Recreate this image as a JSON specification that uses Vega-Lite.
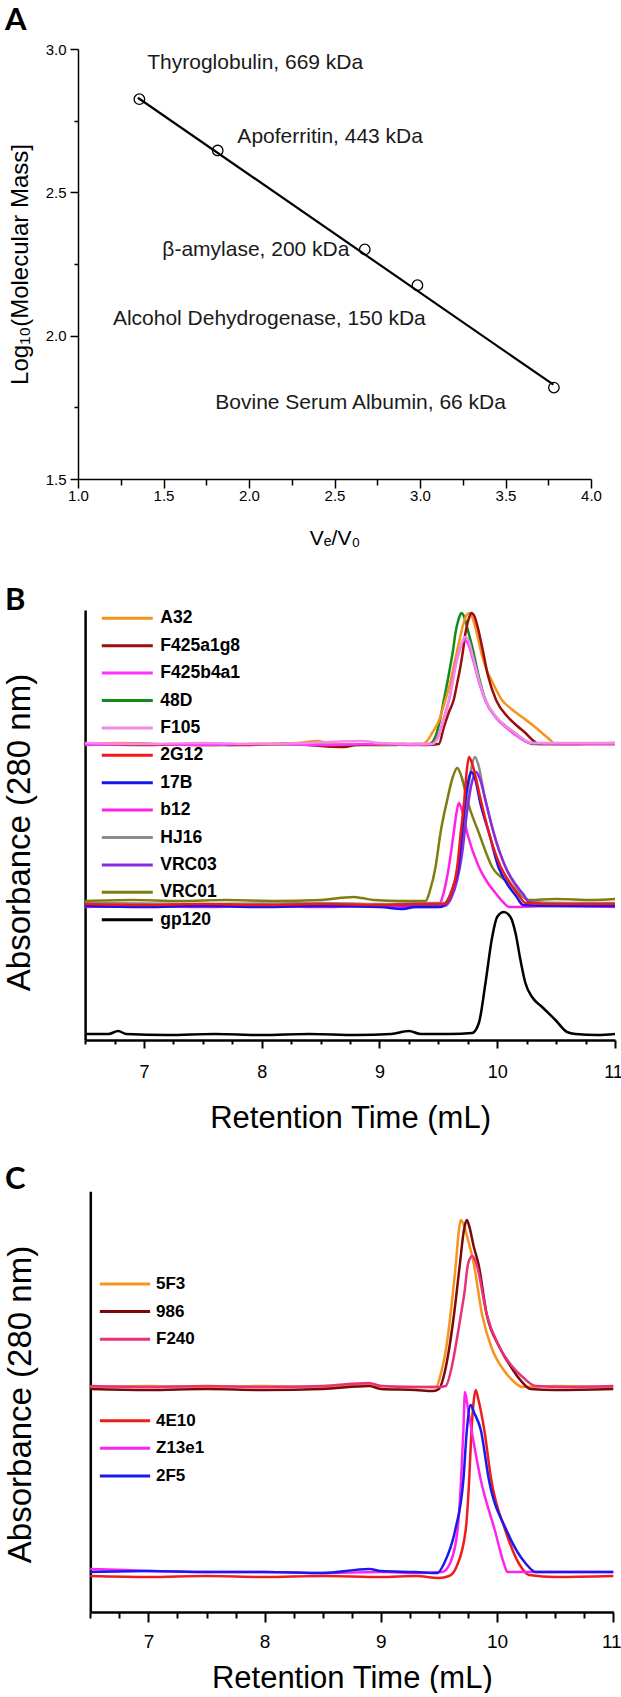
{
"$schema": "https://vega.github.io/schema/vega-lite/v6.json",
"autosize": {"type": "pad"},
"padding": {"left": 3, "top": 5, "right": 0, "bottom": 0},
"bounds": "flush",
"spacing": 131,
"resolve": {"scale": {"color": "independent"}, "legend": {"color": "independent"}},
"config": {
  "view": {"stroke": null},
  "font": "Liberation Sans",
  "axis": {"domainColor": "black", "tickColor": "black", "labelColor": "black", "titleColor": "black", "titleFontWeight": "normal", "grid": false, "labelFont": "Liberation Sans", "titleFont": "Liberation Sans", "labelFlush": false, "labelOverlap": false},
  "title": {"anchor": "start", "frame": "group", "fontSize": 31, "font": "Lato", "fontWeight": "bold", "color": "black", "offset": 0},
  "legend": {"padding": 0, "title": null}
},
"vconcat": [
{
  "width": 513, "height": 430,
  "title": {"text": "A", "dx": -73, "dy": -1},
  "data": {"values": [
    {"protein": "Thyroglobulin", "label": "Thyroglobulin, 669 kDa", "v": 1.359, "m": 2.825, "lx": 1.405, "ly": 2.951},
    {"protein": "Apoferritin", "label": "Apoferritin, 443 kDa", "v": 1.817, "m": 2.646, "lx": 1.932, "ly": 2.692},
    {"protein": "beta-amylase", "label": "β-amylase, 200 kDa", "v": 2.677, "m": 2.301, "lx": 1.493, "ly": 2.299},
    {"protein": "Alcohol Dehydrogenase", "label": "Alcohol Dehydrogenase, 150 kDa", "v": 2.985, "m": 2.176, "lx": 1.204, "ly": 2.059},
    {"protein": "Bovine Serum Albumin", "label": "Bovine Serum Albumin, 66 kDa", "v": 3.783, "m": 1.819, "lx": 1.803, "ly": 1.764}
  ]},
  "layer": [
    {
      "data": {"values": [{"v": 1.35, "m": 2.83}, {"v": 3.78, "m": 1.829}]},
      "mark": {"type": "line", "color": "black", "strokeWidth": 2.2},
      "encoding": {
        "x": {"field": "v", "type": "quantitative",
          "scale": {"domain": [1, 4], "nice": false, "zero": false},
          "axis": {"values": [1,1.25,1.5,1.75,2,2.25,2.5,2.75,3,3.25,3.5,3.75,4],
            "labelExpr": "datum.value % 0.5 === 0 ? format(datum.value, '.1f') : ''",
            "tickSize": {"condition": {"test": "datum.value % 0.5 === 0", "value": 9}, "value": 6},
            "tickWidth": 1.5, "domainWidth": 1.5, "labelFontSize": 15, "labelPadding": 0,
            "title": "Vₑ/V₀", "titleFontSize": 21, "titlePadding": 24}},
        "y": {"field": "m", "type": "quantitative",
          "scale": {"domain": [1.5, 3], "nice": false, "zero": false},
          "axis": {"values": [1.5,1.75,2,2.25,2.5,2.75,3],
            "labelExpr": "datum.value % 0.5 === 0 ? format(datum.value, '.1f') : ''",
            "tickSize": {"condition": {"test": "datum.value % 0.5 === 0", "value": 8}, "value": 4},
            "tickWidth": 1.5, "domainWidth": 1.5, "labelFontSize": 15, "labelPadding": 4,
            "title": "Log₁₀(Molecular Mass]", "titleFontSize": 24, "titlePadding": 13}}
      }
    },
    {
      "mark": {"type": "point", "shape": "circle", "filled": false, "color": "black", "size": 110, "strokeWidth": 1.3, "opacity": 1},
      "encoding": {"x": {"field": "v", "type": "quantitative"}, "y": {"field": "m", "type": "quantitative"}}
    },
    {
      "mark": {"type": "text", "align": "left", "baseline": "middle", "fontSize": 21, "font": "Liberation Sans", "color": "#1a1a1a"},
      "encoding": {"x": {"field": "lx", "type": "quantitative"}, "y": {"field": "ly", "type": "quantitative"}, "text": {"field": "label"}}
    }
  ]
},
{
  "width": 537, "height": 430,
  "title": {"text": "B", "dx": -73, "dy": 15},
  "data": {"values": [
{"s":"gp120","t":6.5,"a":6},{"s":"gp120","t":6.7,"a":6},{"s":"gp120","t":6.78,"a":9},{"s":"gp120","t":6.85,"a":6},{"s":"gp120","t":7.2,"a":5},{"s":"gp120","t":7.6,"a":6},{"s":"gp120","t":8.0,"a":5},{"s":"gp120","t":8.4,"a":6},{"s":"gp120","t":8.8,"a":5},{"s":"gp120","t":9.1,"a":6},{"s":"gp120","t":9.25,"a":9},{"s":"gp120","t":9.35,"a":6},{"s":"gp120","t":9.6,"a":6},{"s":"gp120","t":9.787,"a":7},{"s":"gp120","t":9.844,"a":17},{"s":"gp120","t":9.9,"a":57},{"s":"gp120","t":9.957,"a":103},{"s":"gp120","t":9.999,"a":123},{"s":"gp120","t":10.056,"a":128},{"s":"gp120","t":10.112,"a":123},{"s":"gp120","t":10.155,"a":107},{"s":"gp120","t":10.197,"a":80},{"s":"gp120","t":10.239,"a":57},{"s":"gp120","t":10.296,"a":43},{"s":"gp120","t":10.381,"a":33},{"s":"gp120","t":10.494,"a":20},{"s":"gp120","t":10.593,"a":8},{"s":"gp120","t":10.664,"a":6},{"s":"gp120","t":10.85,"a":5},{"s":"gp120","t":11.0,"a":6},

{"s":"VRC01","t":6.5,"a":139},{"s":"VRC01","t":6.9,"a":140},{"s":"VRC01","t":7.3,"a":139},{"s":"VRC01","t":7.7,"a":140},{"s":"VRC01","t":8.1,"a":139},{"s":"VRC01","t":8.5,"a":140},{"s":"VRC01","t":8.78,"a":143},{"s":"VRC01","t":8.85,"a":142},{"s":"VRC01","t":8.95,"a":140},{"s":"VRC01","t":9.2,"a":139},{"s":"VRC01","t":9.391,"a":139},{"s":"VRC01","t":9.43,"a":150},{"s":"VRC01","t":9.476,"a":173},{"s":"VRC01","t":9.518,"a":207},{"s":"VRC01","t":9.575,"a":240},{"s":"VRC01","t":9.62,"a":262},{"s":"VRC01","t":9.66,"a":272},{"s":"VRC01","t":9.7,"a":262},{"s":"VRC01","t":9.745,"a":240},{"s":"VRC01","t":9.844,"a":207},{"s":"VRC01","t":9.957,"a":173},{"s":"VRC01","t":10.1,"a":157},{"s":"VRC01","t":10.18,"a":147},{"s":"VRC01","t":10.27,"a":140},{"s":"VRC01","t":10.5,"a":141},{"s":"VRC01","t":10.8,"a":140},{"s":"VRC01","t":11.0,"a":141},

{"s":"b12","t":6.5,"a":133},{"s":"b12","t":7.0,"a":134},{"s":"b12","t":7.5,"a":133},{"s":"b12","t":8.0,"a":134},{"s":"b12","t":8.5,"a":133},{"s":"b12","t":9.0,"a":134},{"s":"b12","t":9.3,"a":133},{"s":"b12","t":9.49,"a":133},{"s":"b12","t":9.54,"a":145},{"s":"b12","t":9.589,"a":173},{"s":"b12","t":9.63,"a":207},{"s":"b12","t":9.655,"a":228},{"s":"b12","t":9.674,"a":237},{"s":"b12","t":9.7,"a":230},{"s":"b12","t":9.745,"a":207},{"s":"b12","t":9.844,"a":173},{"s":"b12","t":9.92,"a":157},{"s":"b12","t":9.985,"a":147},{"s":"b12","t":10.05,"a":138},{"s":"b12","t":10.1,"a":133},{"s":"b12","t":10.5,"a":134},{"s":"b12","t":11.0,"a":133},

{"s":"HJ16","t":6.5,"a":137},{"s":"HJ16","t":7.5,"a":136},{"s":"HJ16","t":8.5,"a":137},{"s":"HJ16","t":9.0,"a":136},{"s":"HJ16","t":9.4,"a":137},{"s":"HJ16","t":9.57,"a":137},{"s":"HJ16","t":9.63,"a":150},{"s":"HJ16","t":9.68,"a":175},{"s":"HJ16","t":9.71,"a":207},{"s":"HJ16","t":9.74,"a":240},{"s":"HJ16","t":9.78,"a":272},{"s":"HJ16","t":9.81,"a":283},{"s":"HJ16","t":9.84,"a":275},{"s":"HJ16","t":9.89,"a":245},{"s":"HJ16","t":9.97,"a":207},{"s":"HJ16","t":10.07,"a":173},{"s":"HJ16","t":10.15,"a":155},{"s":"HJ16","t":10.22,"a":144},{"s":"HJ16","t":10.28,"a":138},{"s":"HJ16","t":10.6,"a":137},{"s":"HJ16","t":11.0,"a":137},

{"s":"VRC03","t":6.5,"a":134},{"s":"VRC03","t":7.0,"a":135},{"s":"VRC03","t":7.5,"a":134},{"s":"VRC03","t":8.0,"a":135},{"s":"VRC03","t":8.5,"a":134},{"s":"VRC03","t":9.0,"a":135},{"s":"VRC03","t":9.3,"a":134},{"s":"VRC03","t":9.55,"a":134},{"s":"VRC03","t":9.61,"a":142},{"s":"VRC03","t":9.66,"a":160},{"s":"VRC03","t":9.7,"a":185},{"s":"VRC03","t":9.74,"a":225},{"s":"VRC03","t":9.78,"a":255},{"s":"VRC03","t":9.82,"a":268},{"s":"VRC03","t":9.85,"a":262},{"s":"VRC03","t":9.91,"a":235},{"s":"VRC03","t":9.97,"a":207},{"s":"VRC03","t":10.07,"a":173},{"s":"VRC03","t":10.16,"a":155},{"s":"VRC03","t":10.22,"a":146},{"s":"VRC03","t":10.27,"a":138},{"s":"VRC03","t":10.5,"a":135},{"s":"VRC03","t":11.0,"a":135},

{"s":"17B","t":6.5,"a":134},{"s":"17B","t":7.0,"a":133},{"s":"17B","t":7.5,"a":134},{"s":"17B","t":8.0,"a":133},{"s":"17B","t":8.5,"a":134},{"s":"17B","t":9.0,"a":133},{"s":"17B","t":9.2,"a":131},{"s":"17B","t":9.3,"a":133},{"s":"17B","t":9.52,"a":133},{"s":"17B","t":9.58,"a":140},{"s":"17B","t":9.63,"a":155},{"s":"17B","t":9.67,"a":173},{"s":"17B","t":9.7,"a":207},{"s":"17B","t":9.73,"a":240},{"s":"17B","t":9.76,"a":262},{"s":"17B","t":9.78,"a":268},{"s":"17B","t":9.81,"a":262},{"s":"17B","t":9.86,"a":235},{"s":"17B","t":9.93,"a":207},{"s":"17B","t":10.01,"a":173},{"s":"17B","t":10.09,"a":155},{"s":"17B","t":10.16,"a":144},{"s":"17B","t":10.22,"a":135},{"s":"17B","t":10.5,"a":134},{"s":"17B","t":11.0,"a":134},

{"s":"2G12","t":6.5,"a":136},{"s":"2G12","t":7.0,"a":135},{"s":"2G12","t":7.5,"a":136},{"s":"2G12","t":8.0,"a":135},{"s":"2G12","t":8.5,"a":136},{"s":"2G12","t":9.0,"a":135},{"s":"2G12","t":9.3,"a":136},{"s":"2G12","t":9.547,"a":136},{"s":"2G12","t":9.6,"a":145},{"s":"2G12","t":9.66,"a":173},{"s":"2G12","t":9.69,"a":207},{"s":"2G12","t":9.72,"a":240},{"s":"2G12","t":9.74,"a":268},{"s":"2G12","t":9.76,"a":283},{"s":"2G12","t":9.79,"a":275},{"s":"2G12","t":9.86,"a":240},{"s":"2G12","t":9.93,"a":207},{"s":"2G12","t":10.03,"a":173},{"s":"2G12","t":10.12,"a":155},{"s":"2G12","t":10.18,"a":145},{"s":"2G12","t":10.24,"a":137},{"s":"2G12","t":10.5,"a":136},{"s":"2G12","t":11.0,"a":136},

{"s":"48D","t":6.5,"a":296},{"s":"48D","t":7.0,"a":296},{"s":"48D","t":7.6,"a":295},{"s":"48D","t":8.2,"a":296},{"s":"48D","t":8.8,"a":295},{"s":"48D","t":9.1,"a":295},{"s":"48D","t":9.3,"a":296},{"s":"48D","t":9.42,"a":296},{"s":"48D","t":9.47,"a":302},{"s":"48D","t":9.51,"a":318},{"s":"48D","t":9.547,"a":340},{"s":"48D","t":9.58,"a":360},{"s":"48D","t":9.6,"a":373},{"s":"48D","t":9.625,"a":390},{"s":"48D","t":9.645,"a":407},{"s":"48D","t":9.67,"a":420},{"s":"48D","t":9.695,"a":427},{"s":"48D","t":9.72,"a":423},{"s":"48D","t":9.75,"a":410},{"s":"48D","t":9.79,"a":392},{"s":"48D","t":9.84,"a":365},{"s":"48D","t":9.9,"a":340},{"s":"48D","t":9.99,"a":323},{"s":"48D","t":10.07,"a":314},{"s":"48D","t":10.15,"a":307},{"s":"48D","t":10.23,"a":300},{"s":"48D","t":10.3,"a":296},{"s":"48D","t":10.6,"a":296},{"s":"48D","t":11.0,"a":296},

{"s":"A32","t":6.5,"a":296},{"s":"A32","t":6.8,"a":297},{"s":"A32","t":7.1,"a":296},{"s":"A32","t":7.5,"a":295},{"s":"A32","t":7.9,"a":296},{"s":"A32","t":8.3,"a":297},{"s":"A32","t":8.48,"a":299},{"s":"A32","t":8.6,"a":296},{"s":"A32","t":9.0,"a":295},{"s":"A32","t":9.2,"a":296},{"s":"A32","t":9.36,"a":296},{"s":"A32","t":9.41,"a":300},{"s":"A32","t":9.447,"a":307},{"s":"A32","t":9.5,"a":318},{"s":"A32","t":9.56,"a":340},{"s":"A32","t":9.6,"a":357},{"s":"A32","t":9.63,"a":373},{"s":"A32","t":9.67,"a":395},{"s":"A32","t":9.71,"a":415},{"s":"A32","t":9.74,"a":425},{"s":"A32","t":9.764,"a":427},{"s":"A32","t":9.79,"a":422},{"s":"A32","t":9.83,"a":405},{"s":"A32","t":9.87,"a":385},{"s":"A32","t":9.9,"a":373},{"s":"A32","t":9.95,"a":360},{"s":"A32","t":10.04,"a":340},{"s":"A32","t":10.12,"a":331},{"s":"A32","t":10.21,"a":323},{"s":"A32","t":10.3,"a":315},{"s":"A32","t":10.38,"a":307},{"s":"A32","t":10.45,"a":300},{"s":"A32","t":10.49,"a":296},{"s":"A32","t":10.7,"a":296},{"s":"A32","t":11.0,"a":296},

{"s":"F425a1g8","t":6.5,"a":296},{"s":"F425a1g8","t":7.0,"a":295},{"s":"F425a1g8","t":7.4,"a":296},{"s":"F425a1g8","t":7.8,"a":295},{"s":"F425a1g8","t":8.2,"a":296},{"s":"F425a1g8","t":8.7,"a":293},{"s":"F425a1g8","t":8.8,"a":295},{"s":"F425a1g8","t":9.2,"a":296},{"s":"F425a1g8","t":9.4,"a":295},{"s":"F425a1g8","t":9.504,"a":296},{"s":"F425a1g8","t":9.547,"a":313},{"s":"F425a1g8","t":9.59,"a":328},{"s":"F425a1g8","t":9.63,"a":340},{"s":"F425a1g8","t":9.66,"a":357},{"s":"F425a1g8","t":9.687,"a":373},{"s":"F425a1g8","t":9.71,"a":390},{"s":"F425a1g8","t":9.73,"a":407},{"s":"F425a1g8","t":9.755,"a":420},{"s":"F425a1g8","t":9.78,"a":427},{"s":"F425a1g8","t":9.805,"a":424},{"s":"F425a1g8","t":9.84,"a":410},{"s":"F425a1g8","t":9.88,"a":388},{"s":"F425a1g8","t":9.92,"a":365},{"s":"F425a1g8","t":9.99,"a":340},{"s":"F425a1g8","t":10.09,"a":323},{"s":"F425a1g8","t":10.17,"a":314},{"s":"F425a1g8","t":10.24,"a":307},{"s":"F425a1g8","t":10.3,"a":300},{"s":"F425a1g8","t":10.35,"a":296},{"s":"F425a1g8","t":10.6,"a":296},{"s":"F425a1g8","t":11.0,"a":297},

{"s":"F425b4a1","t":6.5,"a":295},{"s":"F425b4a1","t":7.0,"a":296},{"s":"F425b4a1","t":7.5,"a":295},{"s":"F425b4a1","t":8.0,"a":296},{"s":"F425b4a1","t":8.5,"a":295},{"s":"F425b4a1","t":9.0,"a":296},{"s":"F425b4a1","t":9.3,"a":295},{"s":"F425b4a1","t":9.44,"a":296},{"s":"F425b4a1","t":9.5,"a":304},{"s":"F425b4a1","t":9.55,"a":323},{"s":"F425b4a1","t":9.6,"a":345},{"s":"F425b4a1","t":9.64,"a":372},{"s":"F425b4a1","t":9.68,"a":390},{"s":"F425b4a1","t":9.72,"a":400},{"s":"F425b4a1","t":9.75,"a":397},{"s":"F425b4a1","t":9.79,"a":382},{"s":"F425b4a1","t":9.84,"a":360},{"s":"F425b4a1","t":9.9,"a":339},{"s":"F425b4a1","t":9.99,"a":322},{"s":"F425b4a1","t":10.08,"a":312},{"s":"F425b4a1","t":10.18,"a":303},{"s":"F425b4a1","t":10.28,"a":297},{"s":"F425b4a1","t":10.6,"a":296},{"s":"F425b4a1","t":11.0,"a":296},

{"s":"F105","t":6.5,"a":297},{"s":"F105","t":7.0,"a":296},{"s":"F105","t":7.5,"a":297},{"s":"F105","t":8.0,"a":296},{"s":"F105","t":8.4,"a":297},{"s":"F105","t":8.85,"a":299},{"s":"F105","t":9.0,"a":297},{"s":"F105","t":9.3,"a":296},{"s":"F105","t":9.447,"a":296},{"s":"F105","t":9.5,"a":303},{"s":"F105","t":9.55,"a":322},{"s":"F105","t":9.59,"a":340},{"s":"F105","t":9.62,"a":357},{"s":"F105","t":9.645,"a":373},{"s":"F105","t":9.68,"a":390},{"s":"F105","t":9.73,"a":403},{"s":"F105","t":9.76,"a":398},{"s":"F105","t":9.79,"a":385},{"s":"F105","t":9.84,"a":362},{"s":"F105","t":9.9,"a":340},{"s":"F105","t":9.99,"a":323},{"s":"F105","t":10.07,"a":314},{"s":"F105","t":10.15,"a":307},{"s":"F105","t":10.23,"a":300},{"s":"F105","t":10.3,"a":297},{"s":"F105","t":10.6,"a":297},{"s":"F105","t":11.0,"a":297}
  ]},
  "mark": {"type": "line", "strokeWidth": 2.5, "interpolate": "monotone"},
  "encoding": {
    "x": {"field": "t", "type": "quantitative",
      "scale": {"domain": [6.5, 11], "range": [7.1, 537], "nice": false, "zero": false},
      "axis": {"values": [6.5,6.75,7,7.25,7.5,7.75,8,8.25,8.5,8.75,9,9.25,9.5,9.75,10,10.25,10.5,10.75,11],
        "labelExpr": "datum.value % 1 === 0 ? format(datum.value, 'd') : ''",
        "labelOffset": {"condition": {"test": "datum.value === 11", "value": -2}, "value": 0},
        "tickSize": {"condition": {"test": "datum.value % 1 === 0", "value": 8}, "value": 4},
        "tickWidth": 2, "domainWidth": 2.5, "labelFontSize": 18, "labelPadding": 15,
        "title": "Retention Time (mL)", "titleFontSize": 31, "titlePadding": 22.5}},
    "y": {"field": "a", "type": "quantitative",
      "scale": {"domain": [0, 430], "nice": false, "zero": false},
      "axis": {"labels": false, "ticks": false, "offset": -7.1, "domainWidth": 2.5,
        "title": "Absorbance (280 nm)", "titleFontSize": 33, "titlePadding": 49, "titleY": 222}},
    "color": {"field": "s", "type": "nominal",
      "scale": {"domain": ["A32","F425a1g8","F425b4a1","48D","F105","2G12","17B","b12","HJ16","VRC03","VRC01","gp120"],
        "range": ["#F7941D","#9B0E0E","#FF33FF","#118C1A","#F08CE6","#F01818","#1515F0","#FF22E8","#8C8C8C","#8A2BE2","#7E7E10","#000000"]},
      "legend": {"orient": "none", "legendX": 22.3, "legendY": -4.2, "symbolType": "stroke", "symbolSize": 2601, "symbolStrokeWidth": 3, "clipHeight": 25, "rowPadding": 2.4, "labelOffset": 6, "labelFont": "Liberation Sans", "labelFontWeight": "bold", "labelFontSize": 17.5, "labelColor": "black"}}
  }
},
{
  "width": 536, "height": 441,
  "title": {"text": "C", "dx": -73, "dy": 29},
  "data": {"values": [
{"g":"top","s":"5F3","t":6.5,"a":225},{"g":"top","s":"5F3","t":7.0,"a":226},{"g":"top","s":"5F3","t":7.5,"a":225},{"g":"top","s":"5F3","t":8.0,"a":226},{"g":"top","s":"5F3","t":8.5,"a":225},{"g":"top","s":"5F3","t":8.9,"a":228},{"g":"top","s":"5F3","t":9.0,"a":226},{"g":"top","s":"5F3","t":9.3,"a":225},{"g":"top","s":"5F3","t":9.472,"a":225},{"g":"top","s":"5F3","t":9.52,"a":240},{"g":"top","s":"5F3","t":9.57,"a":270},{"g":"top","s":"5F3","t":9.6,"a":298},{"g":"top","s":"5F3","t":9.645,"a":348},{"g":"top","s":"5F3","t":9.67,"a":380},{"g":"top","s":"5F3","t":9.687,"a":392},{"g":"top","s":"5F3","t":9.71,"a":388},{"g":"top","s":"5F3","t":9.75,"a":372},{"g":"top","s":"5F3","t":9.8,"a":348},{"g":"top","s":"5F3","t":9.87,"a":298},{"g":"top","s":"5F3","t":9.95,"a":265},{"g":"top","s":"5F3","t":10.05,"a":243},{"g":"top","s":"5F3","t":10.13,"a":232},{"g":"top","s":"5F3","t":10.218,"a":225},{"g":"top","s":"5F3","t":10.5,"a":226},{"g":"top","s":"5F3","t":11.0,"a":225},

{"g":"top","s":"986","t":6.5,"a":223},{"g":"top","s":"986","t":7.0,"a":222},{"g":"top","s":"986","t":7.5,"a":223},{"g":"top","s":"986","t":8.0,"a":222},{"g":"top","s":"986","t":8.5,"a":223},{"g":"top","s":"986","t":8.9,"a":226},{"g":"top","s":"986","t":9.0,"a":223},{"g":"top","s":"986","t":9.3,"a":222},{"g":"top","s":"986","t":9.45,"a":221},{"g":"top","s":"986","t":9.5,"a":223},{"g":"top","s":"986","t":9.55,"a":240},{"g":"top","s":"986","t":9.59,"a":265},{"g":"top","s":"986","t":9.63,"a":298},{"g":"top","s":"986","t":9.68,"a":348},{"g":"top","s":"986","t":9.715,"a":382},{"g":"top","s":"986","t":9.739,"a":392},{"g":"top","s":"986","t":9.76,"a":386},{"g":"top","s":"986","t":9.8,"a":365},{"g":"top","s":"986","t":9.84,"a":348},{"g":"top","s":"986","t":9.91,"a":298},{"g":"top","s":"986","t":10.02,"a":265},{"g":"top","s":"986","t":10.12,"a":245},{"g":"top","s":"986","t":10.2,"a":232},{"g":"top","s":"986","t":10.289,"a":223},{"g":"top","s":"986","t":10.5,"a":222},{"g":"top","s":"986","t":11.0,"a":223},

{"g":"top","s":"F240","t":6.5,"a":226},{"g":"top","s":"F240","t":7.0,"a":225},{"g":"top","s":"F240","t":7.5,"a":226},{"g":"top","s":"F240","t":8.0,"a":225},{"g":"top","s":"F240","t":8.5,"a":226},{"g":"top","s":"F240","t":8.9,"a":229},{"g":"top","s":"F240","t":9.0,"a":226},{"g":"top","s":"F240","t":9.3,"a":225},{"g":"top","s":"F240","t":9.5,"a":225},{"g":"top","s":"F240","t":9.558,"a":226},{"g":"top","s":"F240","t":9.61,"a":245},{"g":"top","s":"F240","t":9.65,"a":270},{"g":"top","s":"F240","t":9.69,"a":298},{"g":"top","s":"F240","t":9.72,"a":320},{"g":"top","s":"F240","t":9.75,"a":348},{"g":"top","s":"F240","t":9.787,"a":356},{"g":"top","s":"F240","t":9.81,"a":352},{"g":"top","s":"F240","t":9.83,"a":345},{"g":"top","s":"F240","t":9.91,"a":298},{"g":"top","s":"F240","t":10.02,"a":265},{"g":"top","s":"F240","t":10.12,"a":247},{"g":"top","s":"F240","t":10.22,"a":235},{"g":"top","s":"F240","t":10.332,"a":226},{"g":"top","s":"F240","t":10.6,"a":225},{"g":"top","s":"F240","t":11.0,"a":226},

{"g":"bot","s":"4E10","t":6.5,"a":36},{"g":"bot","s":"4E10","t":7.0,"a":35},{"g":"bot","s":"4E10","t":7.5,"a":36},{"g":"bot","s":"4E10","t":8.0,"a":35},{"g":"bot","s":"4E10","t":8.5,"a":36},{"g":"bot","s":"4E10","t":9.0,"a":35},{"g":"bot","s":"4E10","t":9.3,"a":36},{"g":"bot","s":"4E10","t":9.5,"a":34},{"g":"bot","s":"4E10","t":9.587,"a":36},{"g":"bot","s":"4E10","t":9.65,"a":45},{"g":"bot","s":"4E10","t":9.73,"a":82},{"g":"bot","s":"4E10","t":9.76,"a":132},{"g":"bot","s":"4E10","t":9.78,"a":182},{"g":"bot","s":"4E10","t":9.8,"a":212},{"g":"bot","s":"4E10","t":9.816,"a":222},{"g":"bot","s":"4E10","t":9.84,"a":212},{"g":"bot","s":"4E10","t":9.89,"a":182},{"g":"bot","s":"4E10","t":9.95,"a":132},{"g":"bot","s":"4E10","t":10.07,"a":82},{"g":"bot","s":"4E10","t":10.19,"a":48},{"g":"bot","s":"4E10","t":10.275,"a":37},{"g":"bot","s":"4E10","t":10.5,"a":35},{"g":"bot","s":"4E10","t":11.0,"a":36},

{"g":"bot","s":"Z13e1","t":6.5,"a":43},{"g":"bot","s":"Z13e1","t":6.8,"a":42},{"g":"bot","s":"Z13e1","t":7.0,"a":41},{"g":"bot","s":"Z13e1","t":7.5,"a":40},{"g":"bot","s":"Z13e1","t":8.0,"a":40},{"g":"bot","s":"Z13e1","t":8.5,"a":39},{"g":"bot","s":"Z13e1","t":9.0,"a":40},{"g":"bot","s":"Z13e1","t":9.3,"a":39},{"g":"bot","s":"Z13e1","t":9.529,"a":40},{"g":"bot","s":"Z13e1","t":9.6,"a":50},{"g":"bot","s":"Z13e1","t":9.66,"a":82},{"g":"bot","s":"Z13e1","t":9.69,"a":132},{"g":"bot","s":"Z13e1","t":9.71,"a":182},{"g":"bot","s":"Z13e1","t":9.724,"a":220},{"g":"bot","s":"Z13e1","t":9.74,"a":210},{"g":"bot","s":"Z13e1","t":9.78,"a":182},{"g":"bot","s":"Z13e1","t":9.86,"a":132},{"g":"bot","s":"Z13e1","t":9.98,"a":82},{"g":"bot","s":"Z13e1","t":10.06,"a":48},{"g":"bot","s":"Z13e1","t":10.089,"a":40},{"g":"bot","s":"Z13e1","t":10.5,"a":40},{"g":"bot","s":"Z13e1","t":11.0,"a":40},

{"g":"bot","s":"2F5","t":6.5,"a":40},{"g":"bot","s":"2F5","t":7.0,"a":41},{"g":"bot","s":"2F5","t":7.5,"a":40},{"g":"bot","s":"2F5","t":8.0,"a":40},{"g":"bot","s":"2F5","t":8.5,"a":39},{"g":"bot","s":"2F5","t":8.9,"a":43},{"g":"bot","s":"2F5","t":9.0,"a":41},{"g":"bot","s":"2F5","t":9.3,"a":40},{"g":"bot","s":"2F5","t":9.486,"a":39},{"g":"bot","s":"2F5","t":9.55,"a":50},{"g":"bot","s":"2F5","t":9.64,"a":82},{"g":"bot","s":"2F5","t":9.71,"a":132},{"g":"bot","s":"2F5","t":9.74,"a":182},{"g":"bot","s":"2F5","t":9.773,"a":207},{"g":"bot","s":"2F5","t":9.8,"a":200},{"g":"bot","s":"2F5","t":9.86,"a":182},{"g":"bot","s":"2F5","t":9.93,"a":132},{"g":"bot","s":"2F5","t":10.08,"a":82},{"g":"bot","s":"2F5","t":10.25,"a":48},{"g":"bot","s":"2F5","t":10.332,"a":40},{"g":"bot","s":"2F5","t":10.6,"a":40},{"g":"bot","s":"2F5","t":11.0,"a":40}
  ]},
  "encoding": {
    "x": {"field": "t", "type": "quantitative",
      "scale": {"domain": [6.5, 11], "range": [12.3, 535.3], "nice": false, "zero": false},
      "axis": {"values": [6.5,6.75,7,7.25,7.5,7.75,8,8.25,8.5,8.75,9,9.25,9.5,9.75,10,10.25,10.5,10.75,11],
        "labelExpr": "datum.value % 1 === 0 ? format(datum.value, 'd') : ''",
        "labelOffset": {"condition": {"test": "datum.value === 11", "value": -2}, "value": 0},
        "tickSize": {"condition": {"test": "datum.value % 1 === 0", "value": 10}, "value": 6},
        "tickWidth": 2, "domainWidth": 2.5, "labelFontSize": 19, "labelPadding": 10,
        "title": "Retention Time (mL)", "titleFontSize": 31, "titlePadding": 12}},
    "y": {"field": "a", "type": "quantitative",
      "scale": {"domain": [0, 420.7], "range": [441, 20.3], "nice": false, "zero": false},
      "axis": {"labels": false, "ticks": false, "offset": -12.3, "domainWidth": 2.5,
        "title": "Absorbance (280 nm)", "titleFontSize": 33, "titlePadding": 53, "titleY": 233}}
  },
  "layer": [
    {
      "transform": [{"filter": "datum.g === 'bot'"}],
      "mark": {"type": "line", "strokeWidth": 2.5, "interpolate": "monotone"},
      "encoding": {
        "color": {"field": "s", "type": "nominal",
          "scale": {"domain": ["4E10","Z13e1","2F5"], "range": ["#EE1C1C","#FF22F0","#1A1AEE"]},
          "legend": {"orient": "none", "legendX": 20, "legendY": 237.2, "symbolType": "stroke", "symbolSize": 2530, "symbolStrokeWidth": 3, "clipHeight": 25, "rowPadding": 2.6, "labelOffset": 4, "labelFont": "Liberation Sans", "labelFontWeight": "bold", "labelFontSize": 17, "labelColor": "black"}}
      }
    },
    {
      "transform": [{"filter": "datum.g === 'top'"}],
      "mark": {"type": "line", "strokeWidth": 2.5, "interpolate": "monotone"},
      "encoding": {
        "color": {"field": "s", "type": "nominal",
          "scale": {"domain": ["5F3","986","F240"], "range": ["#F7941D","#7A0A0A","#E8317A"]},
          "legend": {"orient": "none", "legendX": 20, "legendY": 100.5, "symbolType": "stroke", "symbolSize": 2530, "symbolStrokeWidth": 3, "clipHeight": 25, "rowPadding": 2.6, "labelOffset": 4, "labelFont": "Liberation Sans", "labelFontWeight": "bold", "labelFontSize": 17, "labelColor": "black"}}
      }
    }
  ],
  "resolve": {"scale": {"color": "independent"}, "legend": {"color": "independent"}}
}
]
}
